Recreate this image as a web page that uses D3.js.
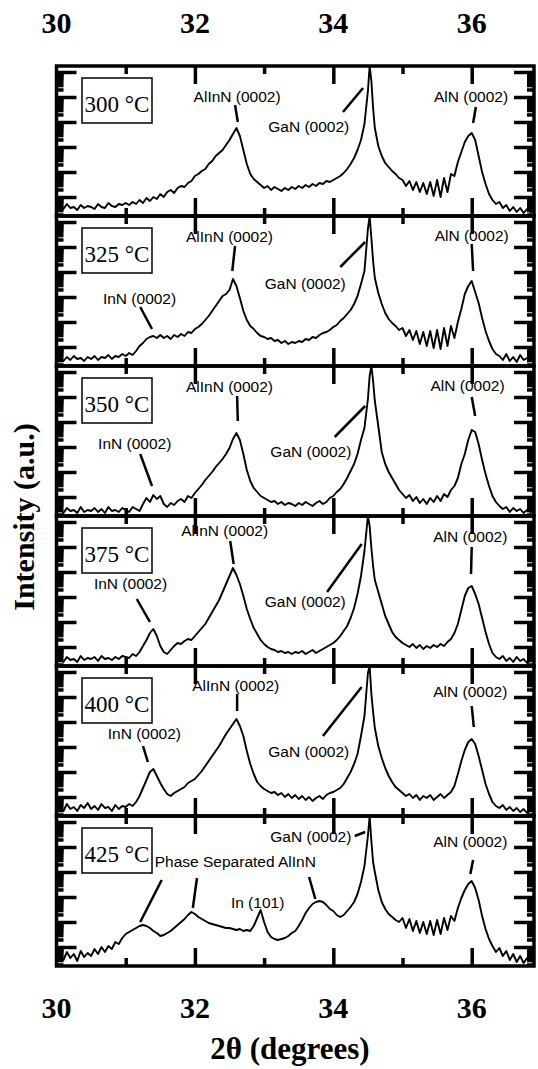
<!DOCTYPE html>
<html>
<head>
<meta charset="utf-8">
<script src="https://cdn.jsdelivr.net/npm/d3@7"></script>
<style>
  body { margin: 0; background: #fff; }
  svg { display: block; }
</style>
</head>
<body>
<div id="chart"></div>
<script>
// 2theta sampling positions (degrees)
var twoTheta = [
  30.00,30.05,30.10,30.15,30.20,30.25,30.30,30.35,30.40,30.45,
  30.50,30.55,30.60,30.65,30.70,30.75,30.80,30.85,30.90,30.95,
  31.00,31.05,31.10,31.15,31.20,31.25,31.30,31.35,31.40,31.45,
  31.50,31.55,31.60,31.65,31.70,31.75,31.80,31.85,31.90,31.95,
  32.00,32.05,32.10,32.15,32.20,32.25,32.30,32.35,32.40,32.45,
  32.50,32.55,32.60,32.65,32.70,32.75,32.80,32.85,32.90,32.95,
  33.00,33.05,33.10,33.15,33.20,33.25,33.30,33.35,33.40,33.45,
  33.50,33.55,33.60,33.65,33.70,33.75,33.80,33.85,33.90,33.95,
  34.00,34.05,34.10,34.15,34.20,34.25,34.30,34.35,34.40,34.45,
  34.50,34.525,34.55,34.575,34.60,34.65,34.70,34.75,34.80,34.85,
  34.90,34.95,35.00,35.05,35.10,35.15,35.20,35.25,35.30,35.35,
  35.40,35.45,35.50,35.55,35.60,35.65,35.70,35.75,35.80,35.85,
  35.90,35.95,36.00,36.05,36.10,36.15,36.20,36.25,36.30,36.35,
  36.40,36.45,36.50,36.55,36.60,36.65,36.70,36.75,36.80,36.85,
  36.90
];

// intensity (a.u., offset per panel) for each growth temperature
var i300 = [
  6,10,7,12,8,9,6,11,8,10,
  9,7,12,9,8,13,10,9,12,11,
  13,11,14,12,16,13,18,15,19,17,
  22,19,24,26,23,28,30,29,33,35,
  40,42,45,47,52,55,60,63,66,71,
  76,82,88,80,66,52,42,37,34,31,
  28,30,26,29,27,25,28,26,29,27,
  30,28,31,29,32,30,33,32,35,34,
  36,38,40,43,47,52,58,66,76,92,
  125,150,135,108,88,70,60,53,49,45,
  42,38,36,30,35,26,34,24,33,22,
  34,20,36,19,38,24,42,40,54,64,
  74,80,83,76,60,44,32,22,16,12,
  14,8,11,5,9,4,8,3,7,4,
  5
];
var i325 = [
  4,8,5,9,6,10,7,8,5,9,
  7,10,6,9,8,11,7,10,9,12,
  10,13,11,15,20,23,27,29,30,28,
  31,28,30,27,31,29,32,30,34,33,
  37,39,42,46,50,55,60,65,70,72,
  76,87,80,68,55,46,40,37,33,30,
  29,27,28,25,26,23,25,22,24,23,
  25,24,27,26,29,28,31,33,34,36,
  39,41,45,48,52,56,62,70,82,95,
  137,150,128,105,88,73,62,53,47,43,
  40,36,38,30,36,26,35,22,34,20,
  35,18,36,17,38,20,40,28,44,57,
  72,80,85,74,63,48,35,25,17,12,
  10,6,12,5,9,4,11,6,8,5,
  6
];
var i350 = [
  4,7,3,8,5,6,3,9,4,6,
  5,8,4,7,3,9,5,6,4,8,
  6,4,9,7,5,12,18,14,21,17,
  20,12,9,13,11,15,17,14,20,18,
  23,27,31,36,40,44,49,53,57,62,
  68,77,83,76,62,46,35,28,24,20,
  18,16,14,15,12,14,11,13,12,10,
  13,11,14,12,10,13,15,12,14,18,
  20,24,27,32,38,45,52,62,76,88,
  117,140,150,135,115,90,64,52,44,38,
  32,26,22,18,21,15,19,13,17,12,
  18,14,20,15,22,19,26,30,38,52,
  62,76,86,84,72,56,42,30,20,14,
  10,7,9,4,8,5,7,3,6,4,
  5
];
var i375 = [
  5,8,4,9,6,7,4,10,6,8,
  7,9,5,10,7,8,6,9,7,10,
  9,8,12,10,14,20,26,33,37,30,
  20,14,12,16,20,23,22,25,27,26,
  30,34,38,42,48,54,60,66,74,82,
  90,98,91,82,70,57,47,38,32,26,
  22,19,17,16,14,15,13,14,12,14,
  13,15,12,14,16,13,15,17,19,21,
  23,26,30,35,40,48,58,72,90,115,
  150,140,118,100,86,74,62,50,42,34,
  29,26,23,21,19,22,18,21,17,20,
  18,21,19,22,20,24,27,33,42,56,
  70,78,80,72,62,48,34,22,13,9,
  7,10,5,8,4,9,5,7,3,6,
  5
];
var i400 = [
  6,10,5,12,7,9,5,11,8,13,
  7,10,6,12,8,9,5,11,7,10,
  9,12,10,14,20,28,36,44,47,40,
  33,27,22,20,23,25,27,29,33,35,
  37,41,45,50,55,60,65,70,76,82,
  87,92,97,90,80,65,52,42,34,30,
  27,25,23,24,21,23,19,22,18,21,
  17,20,16,19,15,18,20,17,21,23,
  24,26,28,32,38,44,52,62,80,100,
  143,150,122,104,88,70,58,48,40,34,
  29,26,23,20,22,18,21,16,20,18,
  21,16,19,22,18,21,24,30,42,55,
  66,74,77,72,60,46,32,22,14,10,
  8,11,6,9,5,8,4,7,3,6,
  5
];
var i425 = [
  4,10,6,14,8,12,5,15,9,13,
  10,17,12,19,14,20,17,24,22,28,
  32,34,36,38,40,41,40,38,35,33,
  30,31,33,35,38,41,44,47,51,54,
  52,49,47,45,43,42,41,40,39,38,
  38,37,36,37,35,36,35,40,48,56,
  44,34,29,27,26,27,28,30,33,35,
  40,46,53,58,62,64,65,64,61,57,
  55,51,49,51,55,59,64,72,84,100,
  130,150,125,104,94,76,64,57,52,49,
  46,44,48,38,47,35,45,33,44,32,
  45,31,46,32,48,36,50,45,58,68,
  76,82,85,78,66,50,37,27,20,14,
  18,10,15,6,12,4,10,3,8,5,
  5
];

var series = [i300, i325, i350, i375, i400, i425];
var temperatures = ["300 \u00B0C", "325 \u00B0C", "350 \u00B0C", "375 \u00B0C", "400 \u00B0C", "425 \u00B0C"];
var xTickLabels = [30, 32, 34, 36];

// peak labels: panel, text, 2theta, intensity, anchor
var peakLabels = [
  [0, "AlInN (0002)", 32.61, 114, "middle"],
  [0, "GaN (0002)", 33.06, 84, "start"],
  [0, "AlN (0002)", 35.99, 114, "middle"],
  [1, "AlInN (0002)", 32.50, 124, "middle"],
  [1, "GaN (0002)", 33.01, 77, "start"],
  [1, "AlN (0002)", 36.00, 125, "middle"],
  [1, "InN (0002)", 31.20, 62, "middle"],
  [2, "AlInN (0002)", 32.50, 124, "middle"],
  [2, "GaN (0002)", 33.09, 59, "start"],
  [2, "AlN (0002)", 35.94, 125, "middle"],
  [2, "InN (0002)", 31.13, 67, "middle"],
  [3, "AlInN (0002)", 32.43, 130, "middle"],
  [3, "GaN (0002)", 33.01, 59, "start"],
  [3, "AlN (0002)", 35.98, 124, "middle"],
  [3, "InN (0002)", 31.07, 77, "middle"],
  [4, "AlInN (0002)", 32.59, 125, "middle"],
  [4, "GaN (0002)", 33.06, 59, "start"],
  [4, "AlN (0002)", 35.98, 119, "middle"],
  [4, "InN (0002)", 31.27, 77, "middle"],
  [5, "Phase Separated AlInN", 31.42, 99, "start"],
  [5, "In (101)", 32.52, 58, "start"],
  [5, "GaN (0002)", 34.26, 124, "end"],
  [5, "AlN (0002)", 35.98, 119, "middle"]
];
// leader lines: panel, 2theta1, int1, 2theta2, int2
var leaders = [
  [0, 32.58, 111, 32.62, 94], [0, 34.14, 104, 34.43, 128], [0, 36.06, 109, 36.02, 93],
  [1, 32.58, 120, 32.54, 95], [1, 34.10, 99, 34.46, 124], [1, 36.00, 122, 36.02, 95], [1, 31.21, 59, 31.38, 37],
  [2, 32.61, 120, 32.62, 95], [2, 34.02, 79, 34.46, 110], [2, 36.00, 119, 36.05, 100], [2, 31.21, 62, 31.38, 30],
  [3, 32.51, 125, 32.56, 102], [3, 33.91, 74, 34.41, 122], [3, 36.00, 119, 35.99, 92], [3, 31.16, 67, 31.35, 44],
  [4, 32.61, 122, 32.61, 105], [4, 33.85, 80, 34.41, 129], [4, 36.00, 110, 36.03, 89], [4, 31.25, 70, 31.32, 54],
  [5, 31.52, 86, 31.21, 44], [5, 32.03, 88, 31.97, 58], [5, 33.65, 89, 33.74, 67],
  [5, 34.31, 130, 34.46, 134], [5, 36.02, 106, 35.98, 92]
];

var W = 538, H = 1069;
var panelTop = 66, panelH = 150;

var svg = d3.select("#chart")
  .append("svg")
    .attr("width", W)
    .attr("height", H);

var x = d3.scaleLinear().domain([30, 36.9]).range([56.5, 534]);
var y = d3.scaleLinear().domain([0, 150]).range([panelH, 0]);
// log-style tick marks on the intensity axes (no labels)
var yLog = d3.scaleLog()
  .domain([Math.pow(10, -0.76), Math.pow(10, 5.24)])
  .range([panelH, 0]);
var majorY = [1, 10, 100, 1e3, 1e4, 1e5];
var minorY = [];
[0.1, 1, 10, 100, 1e3, 1e4].forEach(function(d) {
  for (var m = 2; m <= 9; m++) minorY.push(m * d);
});

var line = d3.line()
  .x(function(d) { return x(d[0]); })
  .y(function(d) { return y(d[1]); });

function styleAxis(g) {
  g.select(".domain").remove();
  g.selectAll(".tick line").attr("stroke", "#000").attr("stroke-width", 3.5);
}

series.forEach(function(vals, i) {
  var g = svg.append("g")
    .attr("transform", "translate(0," + (panelTop + i * panelH) + ")");

  g.append("clipPath").attr("id", "clip" + i)
    .append("rect")
      .attr("x", x(30)).attr("y", 0)
      .attr("width", x(36.9) - x(30)).attr("height", panelH);

  var pts = twoTheta.map(function(t, k) { return [t, vals[k]]; });
  g.append("path")
    .datum(pts)
    .attr("clip-path", "url(#clip" + i + ")")
    .attr("fill", "none")
    .attr("stroke", "#000")
    .attr("stroke-width", 1.9)
    .attr("stroke-linejoin", "round")
    .attr("d", line);

  // x ticks, top and bottom, pointing inward
  g.append("g").attr("transform", "translate(0," + panelH + ")")
    .call(d3.axisBottom(x).tickValues([32, 34, 36]).tickSize(-18).tickFormat(""))
    .call(styleAxis);
  g.append("g").attr("transform", "translate(0," + panelH + ")")
    .call(d3.axisBottom(x).tickValues([31, 33, 35]).tickSize(-8).tickFormat(""))
    .call(styleAxis);
  g.append("g")
    .call(d3.axisTop(x).tickValues([32, 34, 36]).tickSize(-18).tickFormat(""))
    .call(styleAxis);
  g.append("g")
    .call(d3.axisTop(x).tickValues([31, 33, 35]).tickSize(-8).tickFormat(""))
    .call(styleAxis);

  // y ticks, left and right
  g.append("g").attr("transform", "translate(" + x(30) + ",0)")
    .call(d3.axisLeft(yLog).tickValues(majorY).tickSize(-20).tickFormat(""))
    .call(styleAxis);
  g.append("g").attr("transform", "translate(" + x(30) + ",0)")
    .call(d3.axisLeft(yLog).tickValues(minorY).tickSize(-7).tickFormat(""))
    .call(styleAxis);
  g.append("g").attr("transform", "translate(" + x(36.9) + ",0)")
    .call(d3.axisRight(yLog).tickValues(majorY).tickSize(-20).tickFormat(""))
    .call(styleAxis);
  g.append("g").attr("transform", "translate(" + x(36.9) + ",0)")
    .call(d3.axisRight(yLog).tickValues(minorY).tickSize(-7).tickFormat(""))
    .call(styleAxis);

  // frame
  g.append("rect")
    .attr("x", x(30)).attr("y", 0)
    .attr("width", x(36.9) - x(30)).attr("height", panelH)
    .attr("fill", "none").attr("stroke", "#000").attr("stroke-width", 3.5);

  // temperature box
  g.append("rect")
    .attr("x", 82).attr("y", 12).attr("width", 70).attr("height", 45)
    .attr("fill", "#fff").attr("stroke", "#000").attr("stroke-width", 1.5);
  g.append("text")
    .attr("x", 117).attr("y", 46)
    .attr("text-anchor", "middle")
    .style("font-family", "'Liberation Serif', 'Times New Roman', serif")
    .style("font-size", "23px")
    .text(temperatures[i]);

  peakLabels.filter(function(d) { return d[0] === i; }).forEach(function(d) {
    g.append("text")
      .attr("x", x(d[2])).attr("y", y(d[3]))
      .attr("text-anchor", d[4])
      .style("font-family", "'Liberation Sans', Arial, sans-serif")
      .style("font-size", "15.5px")
      .text(d[1]);
  });
  leaders.filter(function(d) { return d[0] === i; }).forEach(function(d) {
    g.append("line")
      .attr("x1", x(d[1])).attr("y1", y(d[2]))
      .attr("x2", x(d[3])).attr("y2", y(d[4]))
      .attr("stroke", "#000").attr("stroke-width", 2.5);
  });
});

// tick labels top and bottom
var bold = "'Liberation Serif', 'Times New Roman', serif";
svg.selectAll(".toplab").data(xTickLabels).enter().append("text")
  .attr("x", function(d) { return x(d); }).attr("y", 33)
  .attr("text-anchor", "middle")
  .style("font-family", bold).style("font-weight", "bold").style("font-size", "30px")
  .text(function(d) { return d; });
svg.selectAll(".botlab").data(xTickLabels).enter().append("text")
  .attr("x", function(d) { return x(d); }).attr("y", 1018)
  .attr("text-anchor", "middle")
  .style("font-family", bold).style("font-weight", "bold").style("font-size", "30px")
  .text(function(d) { return d; });

svg.append("text")
  .attr("x", 290).attr("y", 1059)
  .attr("text-anchor", "middle")
  .style("font-family", bold).style("font-weight", "bold").style("font-size", "31px")
  .text("2\u03B8 (degrees)");

svg.append("text")
  .attr("transform", "translate(34,517) rotate(-90)")
  .attr("text-anchor", "middle")
  .style("font-family", bold).style("font-weight", "bold").style("font-size", "30px")
  .text("Intensity (a.u.)");
</script>
</body>
</html>
